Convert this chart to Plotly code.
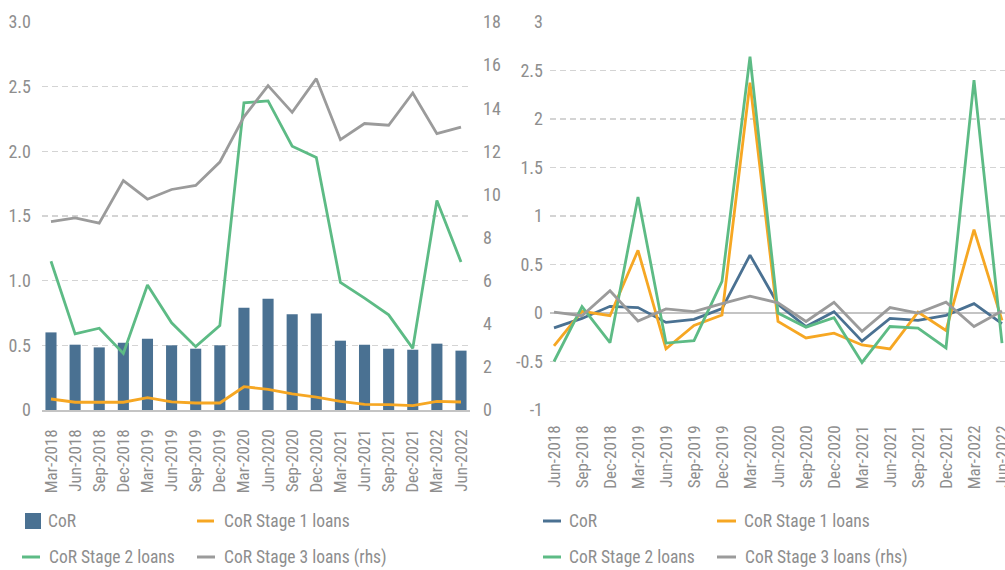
import plotly.graph_objects as go

# ---------------- data ----------------
quarters_left = ["Mar-2018", "Jun-2018", "Sep-2018", "Dec-2018", "Mar-2019", "Jun-2019",
                 "Sep-2019", "Dec-2019", "Mar-2020", "Jun-2020", "Sep-2020", "Dec-2020",
                 "Mar-2021", "Jun-2021", "Sep-2021", "Dec-2021", "Mar-2022", "Jun-2022"]
quarters_right = ["Jun-2018", "Sep-2018", "Dec-2018", "Mar-2019", "Jun-2019", "Sep-2019",
                  "Dec-2019", "Mar-2020", "Jun-2020", "Sep-2020", "Dec-2020", "Mar-2021",
                  "Jun-2021", "Sep-2021", "Dec-2021", "Mar-2022", "Jun-2022"]

cor_level = [0.60, 0.505, 0.484, 0.52, 0.55, 0.50, 0.474, 0.50, 0.79, 0.86,
             0.74, 0.746, 0.536, 0.505, 0.474, 0.466, 0.513, 0.459]
stage1_level = [0.085, 0.06, 0.06, 0.06, 0.096, 0.062, 0.054, 0.054, 0.18, 0.16,
                0.124, 0.10, 0.067, 0.044, 0.041, 0.034, 0.067, 0.062]
stage2_level = [1.15, 0.588, 0.632, 0.438, 0.966, 0.674, 0.49, 0.653, 2.375, 2.39,
                2.04, 1.953, 0.987, 0.865, 0.736, 0.477, 1.62, 1.145]
stage3_level_rhs = [8.74, 8.91, 8.67, 10.64, 9.78, 10.23, 10.42, 11.50, 13.6, 15.05,
                    13.81, 15.37, 12.54, 13.29, 13.21, 14.71, 12.82, 13.12]

cor_change = [-0.153, -0.056, 0.069, 0.056, -0.097, -0.066, 0.045, 0.597, 0.09,
              -0.139, 0.014, -0.29, -0.056, -0.076, -0.024, 0.097, -0.11]
stage1_change = [-0.34, 0.017, -0.028, 0.646, -0.37, -0.128, -0.02, 2.374, -0.087,
                 -0.257, -0.208, -0.33, -0.37, 0.01, -0.18, 0.86, -0.076]
stage2_change = [-0.5, 0.066, -0.306, 1.197, -0.31, -0.285, 0.326, 2.642, 0.0,
                 -0.146, -0.049, -0.51, -0.139, -0.156, -0.36, 2.40, -0.31]
stage3_change = [0.01, -0.028, 0.23, -0.083, 0.042, 0.014, 0.097, 0.174, 0.105,
                 -0.087, 0.111, -0.188, 0.056, 0.0, 0.111, -0.139, 0.02]

series_names = ["CoR", "CoR Stage 1 loans", "CoR Stage 2 loans", "CoR Stage 3 loans (rhs)"]

left_tickvals = [0, 0.5, 1.0, 1.5, 2.0, 2.5, 3.0]
left_ticktext = ["0", "0.5", "1.0", "1.5", "2.0", "2.5", "3.0"]
rhs_tickvals = [0, 2, 4, 6, 8, 10, 12, 14, 16, 18]
right_tickvals = [-1, -0.5, 0, 0.5, 1, 1.5, 2, 2.5, 3]
right_ticktext = ["-1", "-0.5", "0", "0.5", "1", "1.5", "2", "2.5", "3"]

# ---------------- style ----------------
BLUE = "#4a7192"
ORANGE = "#f6a723"
GREEN = "#5dbb85"
GRAY = "#9b9b9b"
TXT = "#8e8e8e"
GRID = "#d4d4d4"
FONT = "Liberation Sans Narrow, Roboto Condensed, DejaVu Sans Condensed, Arial Narrow, sans-serif"
colors = [BLUE, ORANGE, GREEN, GRAY]
LW = 2.8

W, H = 1005, 570
def fx(px):
    return px / W
def fy(py):
    return 1 - py / H

fig = go.Figure()

# left chart
fig.add_trace(go.Bar(x=quarters_left, y=cor_level, name=series_names[0], marker_color=BLUE,
                     width=0.46, xaxis="x", yaxis="y"))
fig.add_trace(go.Scatter(x=quarters_left, y=stage1_level, name=series_names[1], mode="lines",
                         line=dict(color=ORANGE, width=LW), xaxis="x", yaxis="y"))
fig.add_trace(go.Scatter(x=quarters_left, y=stage2_level, name=series_names[2], mode="lines",
                         line=dict(color=GREEN, width=LW), xaxis="x", yaxis="y"))
fig.add_trace(go.Scatter(x=quarters_left, y=stage3_level_rhs, name=series_names[3], mode="lines",
                         line=dict(color=GRAY, width=LW), xaxis="x", yaxis="y2"))

# right chart
for vals, nm, col in zip([cor_change, stage1_change, stage2_change, stage3_change], series_names, colors):
    fig.add_trace(go.Scatter(x=quarters_right, y=vals, name=nm, mode="lines",
                             line=dict(color=col, width=LW), xaxis="x2", yaxis="y3"))

tickfont = dict(family=FONT, size=18, color=TXT)
xtickfont = dict(family=FONT, size=17, color=TXT)

fig.update_layout(
    template="none",
    width=W, height=H,
    margin=dict(l=0, r=0, t=0, b=0, pad=0),
    paper_bgcolor="white", plot_bgcolor="white",
    showlegend=False,
    font=dict(family=FONT, color=TXT),
    xaxis=dict(domain=[fx(42), fx(470)], anchor="y", type="category", automargin=False,
               range=[-0.373, 17.373], tickangle=-90, showgrid=False,
               showline=True, linecolor="#c4c4c4", linewidth=1.5, ticks="",
               tickfont=xtickfont, ticklabelstandoff=11),
    yaxis=dict(domain=[fy(410), fy(22)], anchor="x", range=[0, 3], automargin=False,
               tickvals=left_tickvals, ticktext=left_ticktext,
               showgrid=True, gridcolor=GRID, griddash="6px,4px", gridwidth=1.3,
               zeroline=False, showline=False, ticks="", tickfont=tickfont,
               ticklabelstandoff=10),
    yaxis2=dict(overlaying="y", side="right", anchor="x", range=[0, 18], automargin=False,
                tickvals=rhs_tickvals, showgrid=False, zeroline=False,
                showline=False, ticks="", tickfont=tickfont, ticklabelstandoff=12),
    xaxis2=dict(domain=[fx(550), 1.0], anchor="y3", type="category", automargin=False,
                range=[-0.143, 16.107], tickangle=-90, showgrid=False,
                showline=False, ticks="", tickfont=xtickfont, ticklabelstandoff=11),
    yaxis3=dict(domain=[fy(410), fy(22)], anchor="x2", range=[-1, 3], automargin=False,
                tickvals=right_tickvals, ticktext=right_ticktext,
                showgrid=True, gridcolor=GRID, griddash="6px,4px", gridwidth=1.3,
                zeroline=True, zerolinecolor="#c4c4c4", zerolinewidth=1.5,
                showline=False, ticks="", tickfont=tickfont, ticklabelstandoff=6),
)

# ---------------- legends (drawn below each chart) ----------------
shapes = []
annotations = []
legend_font = dict(family=FONT, size=17.5, color=TXT)

def legend_item(kind, color, x0, x1, yc, text_x, label):
    if kind == "square":
        shapes.append(dict(type="rect", xref="paper", yref="paper",
                           x0=fx(x0), x1=fx(x1), y0=fy(yc + 8), y1=fy(yc - 8),
                           fillcolor=color, line=dict(width=0)))
    else:
        shapes.append(dict(type="line", xref="paper", yref="paper",
                           x0=fx(x0), x1=fx(x1), y0=fy(yc), y1=fy(yc),
                           line=dict(color=color, width=3)))
    annotations.append(dict(xref="paper", yref="paper", x=fx(text_x), y=fy(yc),
                            xanchor="left", yanchor="middle", showarrow=False,
                            text=label, font=legend_font))

row1, row2 = 521, 557
# left chart legend
legend_item("square", BLUE, 25, 41, row1, 46, series_names[0])
legend_item("line", ORANGE, 197, 214, row1, 222, series_names[1])
legend_item("line", GREEN, 22, 40, row2, 47, series_names[2])
legend_item("line", GRAY, 197, 215, row2, 222, series_names[3])
# right chart legend
legend_item("line", BLUE, 543, 561, row1, 567, series_names[0])
legend_item("line", ORANGE, 717, 736, row1, 742, series_names[1])
legend_item("line", GREEN, 543, 561, row2, 567, series_names[2])
legend_item("line", GRAY, 717, 736, row2, 743, series_names[3])

fig.update_layout(shapes=shapes, annotations=annotations)

fig.write_html(
    "out.html",
    config={"displayModeBar": False, "staticPlot": True},
    post_script="document.body.style.margin='0';document.body.style.overflow='hidden';",
)
